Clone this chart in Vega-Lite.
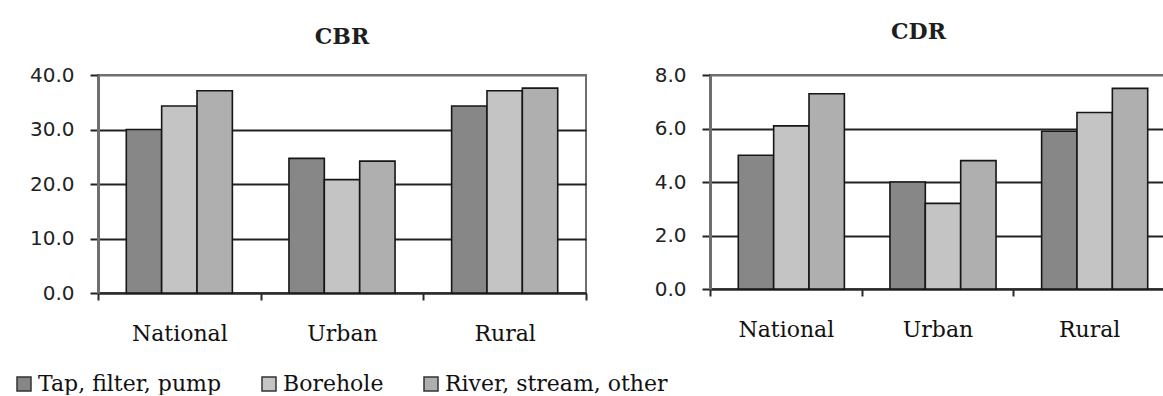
{
  "$schema": "https://vega.github.io/schema/vega-lite/v6.json",
  "background": "white",
  "padding": {"left": 13, "top": 20, "right": 0, "bottom": 0},
  "datasets": {
    "rates": [
      {"rate": "CBR", "area": "National", "source": "Tap, filter, pump", "value": 30.0},
      {"rate": "CBR", "area": "National", "source": "Borehole", "value": 34.3},
      {"rate": "CBR", "area": "National", "source": "River, stream, other", "value": 37.1},
      {"rate": "CBR", "area": "Urban", "source": "Tap, filter, pump", "value": 24.7},
      {"rate": "CBR", "area": "Urban", "source": "Borehole", "value": 20.8},
      {"rate": "CBR", "area": "Urban", "source": "River, stream, other", "value": 24.2},
      {"rate": "CBR", "area": "Rural", "source": "Tap, filter, pump", "value": 34.3},
      {"rate": "CBR", "area": "Rural", "source": "Borehole", "value": 37.1},
      {"rate": "CBR", "area": "Rural", "source": "River, stream, other", "value": 37.6},
      {"rate": "CDR", "area": "National", "source": "Tap, filter, pump", "value": 5.0},
      {"rate": "CDR", "area": "National", "source": "Borehole", "value": 6.1},
      {"rate": "CDR", "area": "National", "source": "River, stream, other", "value": 7.3},
      {"rate": "CDR", "area": "Urban", "source": "Tap, filter, pump", "value": 4.0},
      {"rate": "CDR", "area": "Urban", "source": "Borehole", "value": 3.2},
      {"rate": "CDR", "area": "Urban", "source": "River, stream, other", "value": 4.8},
      {"rate": "CDR", "area": "Rural", "source": "Tap, filter, pump", "value": 5.9},
      {"rate": "CDR", "area": "Rural", "source": "Borehole", "value": 6.6},
      {"rate": "CDR", "area": "Rural", "source": "River, stream, other", "value": 7.5}
    ]
  },
  "config": {
    "font": "DejaVu Serif",
    "view": {"stroke": "#6f6f6f", "strokeWidth": 2},
    "title": {"font": "DejaVu Serif", "fontSize": 22, "fontWeight": "bold", "color": "#1e1e1e", "anchor": "middle", "baseline": "alphabetic"},
    "axisX": {
      "domainColor": "#2a2a2a", "domainWidth": 2,
      "tickColor": "#2a2a2a", "tickWidth": 2, "tickSize": 7, "tickBand": "extent",
      "labelAngle": 0, "labelFontSize": 22, "labelColor": "#111111", "labelPadding": 23,
      "grid": false, "title": null
    },
    "axisY": {
      "domainColor": "#6f6f6f", "domainWidth": 3,
      "tickColor": "#222222", "tickWidth": 2, "tickSize": 8,
      "labelFontSize": 20, "labelColor": "#222222", "labelPadding": 16,
      "gridWidth": 2, "minExtent": 70, "maxExtent": 70, "format": ".1f", "title": null
    },
    "legend": {
      "orient": "none", "direction": "horizontal", "title": null,
      "symbolType": "square", "symbolSize": 196, "symbolStrokeColor": "#333333", "symbolStrokeWidth": 1.5, "symbolOpacity": 1,
      "labelFontSize": 22, "labelColor": "#111111", "labelOffset": 3, "labelLimit": 400,
      "columnPadding": 36, "padding": 0
    }
  },
  "spacing": 51,
  "hconcat": [
    {
      "width": 488,
      "height": 218,
      "title": {"text": "CBR", "offset": 16},
      "data": {"name": "rates"},
      "transform": [{"filter": "datum.rate === 'CBR'"}],
      "mark": {"type": "bar", "stroke": "#161616", "strokeWidth": 1.6},
      "encoding": {
        "x": {
          "field": "area", "type": "nominal", "sort": ["National", "Urban", "Rural"],
          "scale": {"paddingInner": 0, "paddingOuter": 0},
          "axis": {"labelFont": "DejaVu Serif"}
        },
        "xOffset": {"field": "source", "type": "nominal", "sort": ["Tap, filter, pump", "Borehole", "River, stream, other"], "scale": {"paddingInner": 0, "paddingOuter": 0.8}},
        "y": {
          "field": "value", "type": "quantitative",
          "scale": {"domain": [0, 40], "nice": false},
          "axis": {"labelFont": "DejaVu Sans", "values": [0, 10, 20, 30, 40], "gridColor": {"condition": {"test": "datum.value === 40", "value": "#6f6f6f"}, "value": "#232323"}}
        },
        "color": {
          "field": "source", "type": "nominal",
          "sort": ["Tap, filter, pump", "Borehole", "River, stream, other"],
          "scale": {"domain": ["Tap, filter, pump", "Borehole", "River, stream, other"], "range": ["#878787", "#c4c4c4", "#afafaf"]},
          "legend": {"legendX": -85, "legendY": 298, "labelFont": "DejaVu Serif"}
        }
      }
    },
    {
      "width": 455,
      "height": 214,
      "title": {"text": "CDR", "offset": 21, "dx": -19},
      "data": {"name": "rates"},
      "transform": [{"filter": "datum.rate === 'CDR'"}],
      "mark": {"type": "bar", "stroke": "#161616", "strokeWidth": 1.6},
      "encoding": {
        "x": {
          "field": "area", "type": "nominal", "sort": ["National", "Urban", "Rural"],
          "scale": {"paddingInner": 0, "paddingOuter": 0},
          "axis": {"labelFont": "DejaVu Serif"}
        },
        "xOffset": {"field": "source", "type": "nominal", "sort": ["Tap, filter, pump", "Borehole", "River, stream, other"], "scale": {"paddingInner": 0, "paddingOuter": 0.5}},
        "y": {
          "field": "value", "type": "quantitative",
          "scale": {"domain": [0, 8], "nice": false},
          "axis": {"labelFont": "DejaVu Sans", "values": [0, 2, 4, 6, 8], "gridColor": {"condition": {"test": "datum.value === 8", "value": "#6f6f6f"}, "value": "#232323"}}
        },
        "color": {
          "field": "source", "type": "nominal",
          "sort": ["Tap, filter, pump", "Borehole", "River, stream, other"],
          "scale": {"domain": ["Tap, filter, pump", "Borehole", "River, stream, other"], "range": ["#878787", "#c4c4c4", "#afafaf"]}
        }
      }
    }
  ]
}
